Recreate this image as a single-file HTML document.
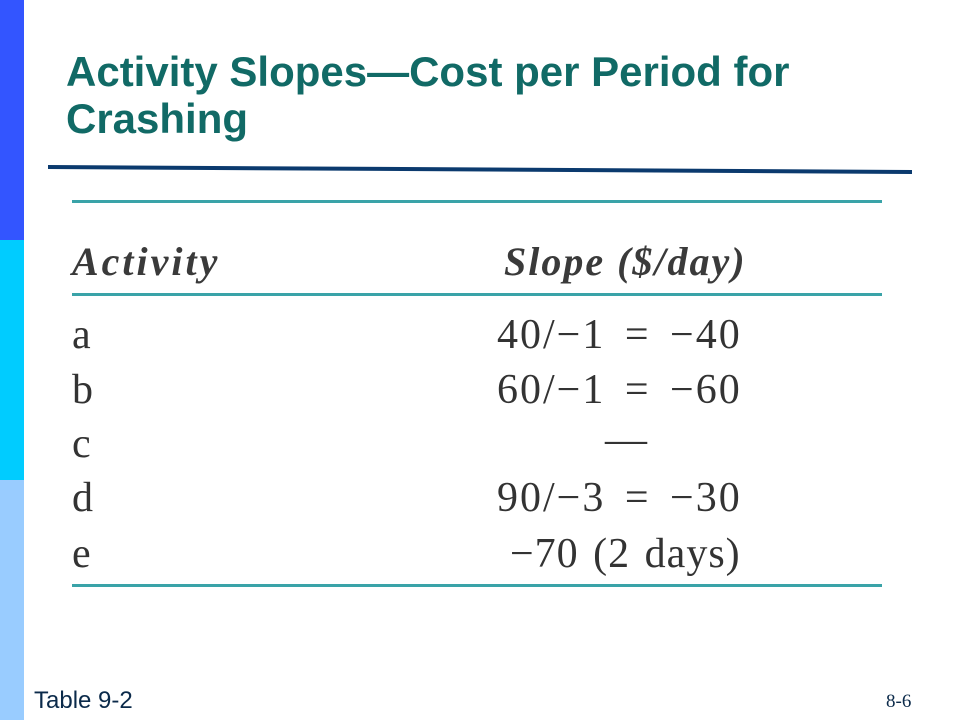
<!DOCTYPE html>
<html><head><meta charset="utf-8"><style>
body{margin:0;width:960px;height:720px;background:#fff;position:relative;overflow:hidden;font-family:"Liberation Sans",sans-serif}
.abs{position:absolute;white-space:nowrap}
.serif{font-family:"Liberation Serif",serif;color:#333;font-size:42px;line-height:1;letter-spacing:2px;word-spacing:7px}
.hdr{font-family:"Liberation Serif",serif;font-style:italic;font-weight:bold;color:#3a3a3a;font-size:40px;line-height:1;letter-spacing:3px}
.rule{position:absolute;left:72px;width:810px;height:3px;background:#3aa3a8}
</style></head><body>
<div class="abs" style="left:0;top:0;width:24px;height:240px;background:#3355ff"></div>
<div class="abs" style="left:0;top:240px;width:24px;height:240px;background:#00ccff"></div>
<div class="abs" style="left:0;top:480px;width:24px;height:240px;background:#99ccff"></div>
<div class="abs" style="left:66px;top:48px;font-size:42px;font-weight:bold;color:#116a66;line-height:47px">Activity Slopes—Cost per Period for<br>Crashing</div>
<svg class="abs" style="left:0;top:0" width="960" height="720"><line x1="48" y1="167" x2="912" y2="172" stroke="#0b3a6e" stroke-width="4"/></svg>
<div class="rule" style="top:200px"></div>
<div class="rule" style="top:293px"></div>
<div class="rule" style="top:584px"></div>
<div class="abs hdr" style="left:72px;top:242px">Activity</div>
<div class="abs hdr" style="left:504px;top:242px;letter-spacing:2px">Slope ($/day)</div>
<div class="abs serif" style="left:72px;top:314px">a</div>
<div class="abs serif" style="left:497px;top:314px">40/−1 = −40</div>
<div class="abs serif" style="left:72px;top:369px">b</div>
<div class="abs serif" style="left:497px;top:369px">60/−1 = −60</div>
<div class="abs serif" style="left:72px;top:423px">c</div>
<div class="abs serif" style="left:605px;top:419px">—</div>
<div class="abs serif" style="left:72px;top:477px">d</div>
<div class="abs serif" style="left:497px;top:477px">90/−3 = −30</div>
<div class="abs serif" style="left:72px;top:533px">e</div>
<div class="abs serif" style="left:510px;top:533px;letter-spacing:1px;word-spacing:3px">−70 (2 days)</div>
<div class="abs" style="left:34px;top:687px;font-size:24px;color:#0b2a4a">Table 9-2</div>
<div class="abs" style="left:886px;top:691px;font-family:'Liberation Serif',serif;font-size:19px;color:#0b2a4a">8-6</div>
</body></html>
